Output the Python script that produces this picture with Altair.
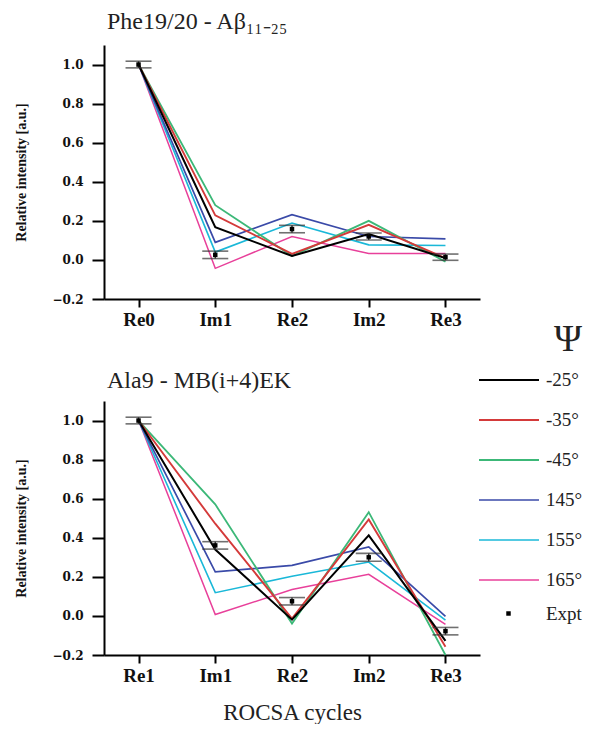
import altair as alt
import pandas as pd

# ---------------- data ----------------
cycles_top = ["Re0", "Im1", "Re2", "Im2", "Re3"]
cycles_bottom = ["Re1", "Im1", "Re2", "Im2", "Re3"]
psi_labels = ["-25°", "-35°", "-45°", "145°", "155°", "165°"]
psi_colors = ["#000000", "#d43a3a", "#3cb878", "#3a4aa8", "#1ab8d8", "#e8409a"]
psi_widths = [2.0, 1.5, 1.5, 1.5, 1.5, 1.5]

# Phe19/20 - Abeta 11-25
top_m25 = [1.0, 0.168, 0.020, 0.132, 0.009]
top_m35 = [1.0, 0.228, 0.031, 0.180, 0.009]
top_m45 = [1.0, 0.280, 0.020, 0.200, -0.009]
top_145 = [1.0, 0.090, 0.232, 0.120, 0.108]
top_155 = [1.0, 0.040, 0.189, 0.077, 0.074]
top_165 = [1.0, -0.043, 0.120, 0.033, 0.033]
top_expt = [1.0, 0.026, 0.158, 0.120, 0.014]
top_err = [0.017, 0.019, 0.019, 0.018, 0.016]

# Ala9 - MB(i+4)EK
bot_m25 = [1.0, 0.340, -0.019, 0.412, -0.128]
bot_m35 = [1.0, 0.472, -0.014, 0.494, -0.158]
bot_m45 = [1.0, 0.571, -0.039, 0.531, -0.200]
bot_145 = [1.0, 0.225, 0.259, 0.353, -0.002]
bot_155 = [1.0, 0.119, 0.203, 0.276, -0.022]
bot_165 = [1.0, 0.007, 0.135, 0.213, -0.043]
bot_expt = [1.0, 0.361, 0.075, 0.300, -0.078]
bot_err = [0.017, 0.019, 0.019, 0.020, 0.019]

y_ticks = [round(-0.2 + 0.1 * i, 1) for i in range(14)]

SERIF = "Liberation Serif"
W, H = 376, 254


def panel(cycles, series, expt, err, title, show_xtitle, title_offset):
    rows = []
    # draw black last so it sits on top
    for lab, vals in reversed(list(zip(psi_labels, series))):
        for c, v in zip(cycles, vals):
            rows.append({"cycle": c, "psi": lab, "value": v})
    lines_df = pd.DataFrame(rows)
    ex_df = pd.DataFrame({
        "cycle": cycles,
        "value": expt,
        "lo": [v - e for v, e in zip(expt, err)],
        "hi": [v + e for v, e in zip(expt, err)],
        "kind": ["Expt"] * len(cycles),
    })

    x = alt.X(
        "cycle:N",
        sort=cycles,
        scale=alt.Scale(type="point", domain=cycles, padding=0.45),
        axis=alt.Axis(
            title="ROCSA cycles" if show_xtitle else None,
            titleFont=SERIF, titleFontSize=23, titleFontWeight="normal",
            titlePadding=16, titleColor="#222",
            labelAngle=0, labelFont=SERIF, labelFontSize=19, labelFontWeight="bold",
            labelColor="#111", labelPadding=3,
            tickSize=8, tickWidth=2, tickColor="black",
            domainWidth=2, domainColor="black", grid=False,
        ),
    )
    y_axis = alt.Axis(
        title="Relative intensity [a.u.]",
        titleFont=SERIF, titleFontSize=14, titleFontWeight="bold", titleColor="#111",
        titlePadding=24,
        values=y_ticks,
        labelExpr="round(datum.value*10) % 2 == 0 ? format(datum.value, '.1f') : ''",
        labelFont="DejaVu Serif", labelFontSize=12, labelFontWeight="bold", labelColor="#111",
        labelPadding=9, labelOverlap=False, labelFlush=False, labelBound=False,
        tickSize=12, tickWidth=2, tickColor="black",
        domainWidth=2, domainColor="black", grid=False,
    )
    y = alt.Y("value:Q", scale=alt.Scale(domain=[-0.2, 1.1], nice=False, zero=False), axis=y_axis)

    lines = alt.Chart(lines_df).mark_line().encode(
        x=x,
        y=y,
        color=alt.Color(
            "psi:N",
            scale=alt.Scale(domain=psi_labels, range=psi_colors),
            legend=alt.Legend(
                title="Ψ", orient="none", legendX=374, legendY=276,
                titleFont=SERIF, titleFontSize=38, titleFontWeight="normal",
                titleColor="#222", titleAnchor="end", titlePadding=11,
                labelFont=SERIF, labelFontSize=19, labelColor="#222", labelOffset=6,
                symbolType="stroke", symbolSize=3600, symbolStrokeWidth=2,
                clipHeight=20, rowPadding=20,
            ),
        ),
        strokeWidth=alt.StrokeWidth(
            "psi:N", scale=alt.Scale(domain=psi_labels, range=psi_widths), legend=None
        ),
        detail="psi:N",
    )

    rule = alt.Chart(ex_df).mark_rule(color="#333", strokeWidth=1.5).encode(
        x=x, y=alt.Y("lo:Q"), y2="hi:Q"
    )
    cap_hi = alt.Chart(ex_df).mark_tick(color="#333", thickness=1.6, size=26).encode(
        x=x, y=alt.Y("hi:Q")
    )
    cap_lo = alt.Chart(ex_df).mark_tick(color="#333", thickness=1.6, size=26).encode(
        x=x, y=alt.Y("lo:Q")
    )
    pts = alt.Chart(ex_df).mark_point(filled=True, size=20, opacity=1, color="black").encode(
        x=x,
        y=alt.Y("value:Q"),
        shape=alt.Shape(
            "kind:N",
            scale=alt.Scale(domain=["Expt"], range=["square"]),
            legend=alt.Legend(
                title=None, orient="none", legendX=395, legendY=559,
                labelFont=SERIF, labelFontSize=19, labelColor="#222", labelOffset=28,
                symbolFillColor="black", symbolStrokeColor="black", symbolSize=20,
            ),
        ),
    )

    return alt.layer(lines, rule, cap_hi, cap_lo, pts).properties(
        width=W,
        height=H,
        title=alt.TitleParams(
            title, anchor="start", frame="group", font=SERIF, fontSize=24,
            fontWeight="normal", color="#222", offset=title_offset, dx=3,
        ),
    )


top = panel(cycles_top, [top_m25, top_m35, top_m45, top_145, top_155, top_165],
            top_expt, top_err, "Phe19/20 - Aβ₁₁₋₂₅", False, 11)
bottom = panel(cycles_bottom, [bot_m25, bot_m35, bot_m45, bot_145, bot_155, bot_165],
               bot_expt, bot_err, "Ala9 - MB(i+4)EK", True, 8)

chart = alt.vconcat(top, bottom, spacing=40).properties(
    padding={"left": 6, "top": 2, "right": 0, "bottom": 0}
).configure_view(stroke=None)

chart.save("out.html", embed_options={"renderer": "svg", "actions": False})
